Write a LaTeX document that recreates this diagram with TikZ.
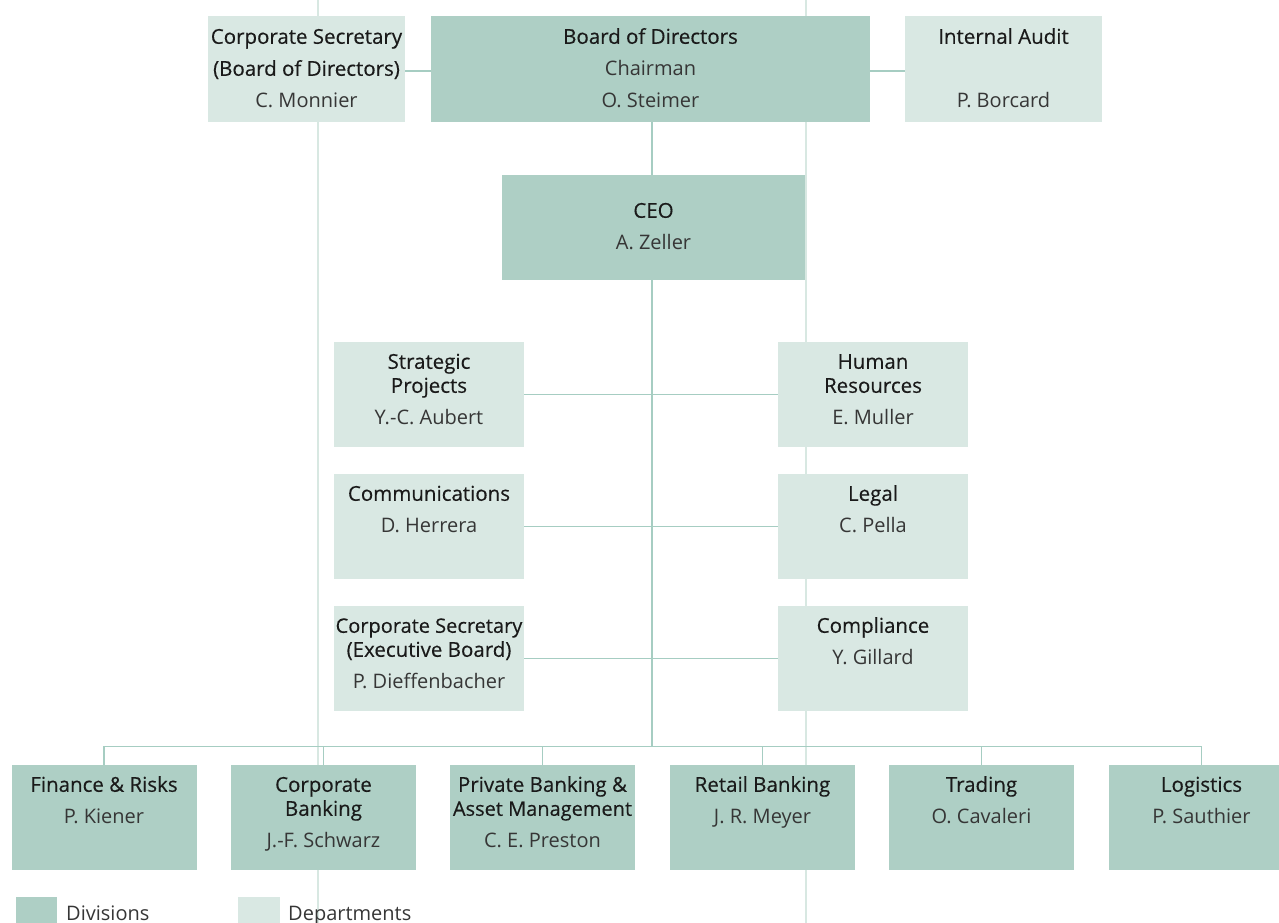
\documentclass[tikz,border=0pt]{standalone}
\usepackage{fontspec}
\setmainfont{Open Sans}
\newfontfamily\ttlfont[FakeBold=0.35]{Open Sans}
\definecolor{divfill}{HTML}{AECFC5}
\definecolor{depfill}{HTML}{D9E8E3}
\definecolor{conn}{HTML}{A6CDC2}
\definecolor{faint}{HTML}{D8E8E2}
\definecolor{titlec}{HTML}{1A1A1A}
\definecolor{namec}{HTML}{363636}
\begin{document}
\begin{tikzpicture}[x=1pt,y=1pt,
  box/.style={rectangle, inner sep=0pt, draw=none, minimum height=105pt},
  div/.style={box, fill=divfill},
  dep/.style={box, fill=depfill},
  nm/.style={inner sep=0pt, anchor=base, font=\fontsize{20}{24}\selectfont, text=namec},
  ttl/.style={inner sep=0pt, anchor=base, font=\ttlfont\fontsize{20.5}{24}\selectfont, text=titlec},
  link/.style={draw=conn, line width=1.3pt},
  guide/.style={draw=faint, line width=1.3pt}]
\useasboundingbox (0,0) rectangle (1279,-923);
\clip (0,0) rectangle (1279,-923);
% faint guide lines
\coordinate (g1t) at (318,0);   \coordinate (g1b) at (318,-923);
\coordinate (g2t) at (806,0);   \coordinate (g2b) at (806,-923);
\draw[guide] (g1t) -- (g1b);
\draw[guide] (g2t) -- (g2b);
% top row
\node[dep, minimum width=197pt, minimum height=106pt] (csb) at (306.5,-69) {};
\node[div, minimum width=439pt, minimum height=106pt] (bod) at (650.5,-69) {};
\node[dep, minimum width=197pt, minimum height=106pt] (ia)  at (1003.5,-69) {};
\node[div, minimum width=303pt] (ceo) at (653.5,-227.5) {};
% staff
\node[dep, minimum width=190pt] (sp)  at (429,-394.5) {};
\node[dep, minimum width=190pt] (hr)  at (873,-394.5) {};
\node[dep, minimum width=190pt] (com) at (429,-526.5) {};
\node[dep, minimum width=190pt] (leg) at (873,-526.5) {};
\node[dep, minimum width=190pt] (cse) at (429,-658.5) {};
\node[dep, minimum width=190pt] (cmp) at (873,-658.5) {};
% divisions
\node[div, minimum width=185pt] (fin) at (104,-817.5) {};
\node[div, minimum width=185pt] (cbk) at (323.5,-817.5) {};
\node[div, minimum width=185pt] (pbk) at (542.5,-817.5) {};
\node[div, minimum width=185pt] (rbk) at (762.5,-817.5) {};
\node[div, minimum width=185pt] (trd) at (981.5,-817.5) {};
\node[div, minimum width=185pt] (log) at (1201.5,-817.5) {};
% legend
\node[div, minimum width=41pt, minimum height=41pt, anchor=north west] (lgd) at (16,-897) {};
\node[dep, minimum width=42pt, minimum height=41pt, anchor=north west] (lgp) at (238,-897) {};
\node[nm, anchor=base west] (lgdt) at (66,-920) {Divisions};
\node[nm, anchor=base west] (lgpt) at (288,-920) {Departments};
% connectors
\coordinate (spt) at (652,-122);
\coordinate (spm) at (652,-175);
\coordinate (spc) at (652,-280);
\coordinate (spb) at (652,-747);
\draw[link] ([yshift=-2pt]csb.east) -- ([yshift=-2pt]bod.west);
\draw[link] ([yshift=-2pt]bod.east) -- ([yshift=-2pt]ia.west);
\draw[link] (spt) -- (spm);
\draw[link] (spc) -- (spb);
\draw[link] (sp.east) -- (hr.west);
\draw[link] (com.east) -- (leg.west);
\draw[link] (cse.east) -- (cmp.west);
\draw[link] (fin.north) -- ++(0,18) -| (log.north);
\draw[link] (cbk.north) -- ++(0,18);
\draw[link] (pbk.north) -- ++(0,18);
\draw[link] (rbk.north) -- ++(0,18);
\draw[link] (trd.north) -- ++(0,18);
% texts: top row
\node[ttl] (csb1) at ([yshift=-28pt]csb.north) {Corporate Secretary};
\node[ttl] (csb2) at ([yshift=-60pt]csb.north) {(Board of Directors)};
\node[nm]  (csb3) at ([yshift=-92pt]csb.north) {C. Monnier};
\node[ttl] (bod1) at ([yshift=-28pt]bod.north) {Board of Directors};
\node[nm]  (bod2) at ([yshift=-60pt]bod.north) {Chairman};
\node[nm]  (bod3) at ([yshift=-92pt]bod.north) {O. Steimer};
\node[ttl] (ia1) at ([yshift=-28pt]ia.north) {Internal Audit};
\node[nm]  (ia3) at ([yshift=-92pt]ia.north) {P. Borcard};
\node[ttl] (ceo1) at ([yshift=-43pt]ceo.north) {CEO};
\node[nm]  (ceo2) at ([yshift=-75pt]ceo.north) {A. Zeller};
% staff texts
\node[ttl] (sp1) at ([yshift=-27pt]sp.north) {Strategic};
\node[ttl] (sp2) at ([yshift=-51pt]sp.north) {Projects};
\node[nm]  (sp3) at ([yshift=-83pt]sp.north) {Y.-C. Aubert};
\node[ttl] (hr1) at ([yshift=-27pt]hr.north) {Human};
\node[ttl] (hr2) at ([yshift=-51pt]hr.north) {Resources};
\node[nm]  (hr3) at ([yshift=-83pt]hr.north) {E. Muller};
\node[ttl] (com1) at ([yshift=-27pt]com.north) {Communications};
\node[nm]  (com2) at ([yshift=-59pt]com.north) {D. Herrera};
\node[ttl] (leg1) at ([yshift=-27pt]leg.north) {Legal};
\node[nm]  (leg2) at ([yshift=-59pt]leg.north) {C. Pella};
\node[ttl, font=\ttlfont\fontsize{20}{24}\selectfont] (cse1) at ([yshift=-27pt]cse.north) {Corporate Secretary};
\node[ttl] (cse2) at ([yshift=-51pt]cse.north) {(Executive Board)};
\node[nm]  (cse3) at ([yshift=-83pt]cse.north) {P. Dieffenbacher};
\node[ttl] (cmp1) at ([yshift=-27pt]cmp.north) {Compliance};
\node[nm]  (cmp2) at ([yshift=-59pt]cmp.north) {Y. Gillard};
% division texts
\node[ttl] (fin1) at ([yshift=-27pt]fin.north) {Finance \& Risks};
\node[nm]  (fin2) at ([yshift=-59pt]fin.north) {P. Kiener};
\node[ttl] (cbk1) at ([yshift=-27pt]cbk.north) {Corporate};
\node[ttl] (cbk2) at ([yshift=-51pt]cbk.north) {Banking};
\node[nm]  (cbk3) at ([yshift=-83pt]cbk.north) {J.-F. Schwarz};
\node[ttl] (pbk1) at ([yshift=-27pt]pbk.north) {Private Banking \&};
\node[ttl, font=\ttlfont\fontsize{20}{24}\selectfont] (pbk2) at ([yshift=-51pt]pbk.north) {Asset Management};
\node[nm]  (pbk3) at ([yshift=-83pt]pbk.north) {C. E. Preston};
\node[ttl] (rbk1) at ([yshift=-27pt]rbk.north) {Retail Banking};
\node[nm]  (rbk2) at ([yshift=-59pt]rbk.north) {J. R. Meyer};
\node[ttl] (trd1) at ([yshift=-27pt]trd.north) {Trading};
\node[nm]  (trd2) at ([yshift=-59pt]trd.north) {O. Cavaleri};
\node[ttl] (log1) at ([yshift=-27pt]log.north) {Logistics};
\node[nm]  (log2) at ([yshift=-59pt]log.north) {P. Sauthier};
\end{tikzpicture}
\end{document}
